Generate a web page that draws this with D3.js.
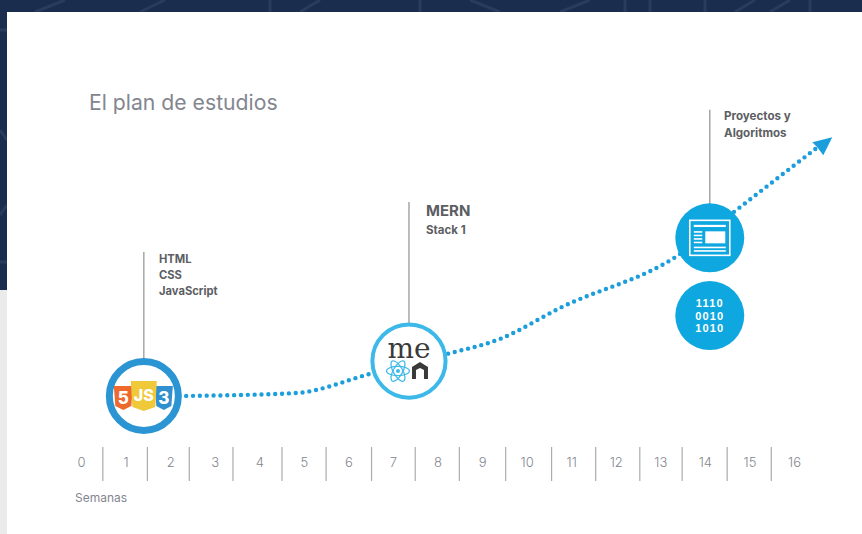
<!DOCTYPE html>
<html>
<head>
<meta charset="utf-8">
<script src="https://cdn.jsdelivr.net/npm/d3@7"></script>
<style>
  html, body { margin: 0; padding: 0; background: #fff; overflow: hidden; }
  text { font-family: Inter, Roboto, "Noto Sans", sans-serif; }
</style>
</head>
<body>
<div id="graph"></div>
<script>
/* chart values */
var weeks = [0, 1, 2, 3, 4, 5, 6, 7, 8, 9, 10, 11, 12, 13, 14, 15, 16];
var separators = [0.49, 1.49, 2.43, 3.41, 4.51, 5.5, 6.52, 7.5, 8.49, 9.53, 10.56, 11.55, 12.54, 13.49, 14.5, 15.49];
var curveWeeks = [2.36, 4.82, 6.49, 8.21, 9.4, 10.75, 13.44, 14.68, 16.5];
var curveLevels = [16.9, 17.8, 23.8, 30, 34.7, 44.4, 61.2, 74.7, 94.3];
var milestoneWeeks = [1.41, 7.36, 14.11, 14.11];
var milestoneLevels = [16.9, 27.8, 66.3, 42];
var leaderTops = [61.9, 77.5, 106.3];
var labelLines = [["HTML", "CSS", "JavaScript"], ["MERN", "Stack 1"], ["Proyectos y", "Algoritmos"]];
var binaryRows = ["1110", "0010", "1010"];

var WIDTH = 862, HEIGHT = 534;
var NAVY = "#1b2d4f", GREY = "#83868f", DARK = "#5c5e63";

var svg = d3.select("#graph").append("svg")
    .attr("width", WIDTH)
    .attr("height", HEIGHT)
    .style("display", "block");

/* week 0 sits at x=81, one week is about 44.56px */
var x = d3.scaleLinear().domain([0, 16]).range([81, 794]);
var y = d3.scaleLinear().domain([0, 100]).range([450, 130]);

function drawBackground() {
    /* dark page behind the white slide */
    svg.append("rect").attr("width", WIDTH).attr("height", HEIGHT).attr("fill", NAVY);
    var pattern = svg.append("path")
        .attr("fill", "none")
        .attr("stroke", "#2a3b5e")
        .attr("stroke-width", 3)
        .attr("d", "M35,12L65,0M140,12L165,0M270,0V12M300,12L320,0M420,0V12M470,0L500,12M560,12L590,0"
            + "M625,0V12M650,0V12M705,0V12M735,12L755,0M770,12L790,0M810,0V12M0,30H7M0,130L7,140M0,215L7,205M0,262H7");
    svg.append("rect").attr("x", 0).attr("y", 290).attr("width", 7).attr("height", HEIGHT - 290).attr("fill", "#ebebeb");
    svg.append("rect").attr("x", 7).attr("y", 12).attr("width", WIDTH - 7).attr("height", HEIGHT - 12).attr("fill", "#fff");
}

function drawAxis() {
    var axis = d3.axisBottom(x).tickValues(weeks).tickFormat(d3.format("d")).tickSize(0);
    var g = svg.append("g").attr("transform", "translate(0,455)").call(axis);
    g.select(".domain").remove();
    g.selectAll("text")
        .attr("fill", GREY)
        .style("font-size", "13px")
        .style("font-weight", 300)
        .style("font-family", "Inter, Roboto, sans-serif");

    svg.selectAll(".sep").data(separators).enter().append("line")
        .attr("class", "sep")
        .attr("x1", function (d) { return x(d); })
        .attr("x2", function (d) { return x(d); })
        .attr("y1", 447)
        .attr("y2", 481)
        .attr("stroke", "#a9abae")
        .attr("stroke-width", 1.2);

    svg.append("text").attr("x", 75).attr("y", 502)
        .attr("fill", GREY).style("font-size", "12px").text("Semanas");
}

function drawCurve() {
    var pts = d3.zip(curveWeeks, curveLevels);
    var line = d3.line()
        .x(function (d) { return x(d[0]); })
        .y(function (d) { return y(d[1]); })
        .curve(d3.curveMonotoneX);
    svg.append("path")
        .attr("d", line(pts))
        .attr("fill", "none")
        .attr("stroke", "#1b9edb")
        .attr("stroke-width", 4.4)
        .attr("stroke-linecap", "round")
        .attr("stroke-dasharray", "0 6.85");

    /* arrow head at the end of the curve */
    var n = pts.length - 1;
    svg.append("path")
        .attr("transform", "translate(" + x(curveWeeks[n]) + "," + y(curveLevels[n]) + ")")
        .attr("d", "M16,-11L-4,-6L1,-1L7,7Z")
        .attr("fill", "#1b9edb");
}

function drawLeaders() {
    leaderTops.forEach(function (top, i) {
        svg.append("line")
            .attr("x1", x(milestoneWeeks[i]))
            .attr("x2", x(milestoneWeeks[i]))
            .attr("y1", y(top))
            .attr("y2", y(milestoneLevels[i]))
            .attr("stroke", "#999")
            .attr("stroke-width", 1.3);
    });
}

function milestone(i) {
    return svg.append("g")
        .attr("transform", "translate(" + x(milestoneWeeks[i]) + "," + y(milestoneLevels[i]) + ")");
}

function shield(g, cx, top, w, h, fill, glyph, size) {
    var l = cx - w / 2, r = cx + w / 2;
    g.append("path")
        .attr("d", "M" + l + "," + top + "H" + r + "L" + (r - 1.5) + "," + (top + h - 4)
            + "L" + cx + "," + (top + h) + "L" + (l + 1.5) + "," + (top + h - 4) + "Z")
        .attr("fill", fill);
    g.append("text")
        .attr("x", cx)
        .attr("y", top + h / 2 + size * 0.34)
        .attr("text-anchor", "middle")
        .attr("fill", "#fff")
        .style("font-size", size + "px")
        .style("font-weight", 800)
        .text(glyph);
}

function drawWebStack() {
    var g = milestone(0);
    g.append("circle").attr("r", 34.5).attr("fill", "#fff")
        .attr("stroke", "#2b95d3").attr("stroke-width", 7);
    shield(g, -20.5, -10, 19, 24, "#ee6a2c", "5", 17);
    shield(g, 20, -10, 18, 24, "#2f8fd0", "3", 17);
    shield(g, 0, -15, 26, 30, "#f0c93a", "JS", 16);
}

function drawMern() {
    var g = milestone(1);
    g.append("circle").attr("r", 36.6).attr("fill", "#fff")
        .attr("stroke", "#3cb9e8").attr("stroke-width", 4);
    g.append("text")
        .attr("y", -3)
        .attr("text-anchor", "middle")
        .attr("fill", "#3a3a3a")
        .style("font-family", "'DejaVu Serif', serif")
        .style("font-size", "28px")
        .text("me");
    [0, 60, 120].forEach(function (a) {
        g.append("ellipse")
            .attr("cx", -11).attr("cy", 10)
            .attr("rx", 11.5).attr("ry", 4.6)
            .attr("transform", "rotate(" + a + " -11 10)")
            .attr("fill", "none")
            .attr("stroke", "#3cb9e8")
            .attr("stroke-width", 1.2);
    });
    g.append("circle").attr("cx", -11).attr("cy", 10).attr("r", 2).attr("fill", "#3cb9e8");
    g.append("path")
        .attr("d", "M3,6L11,1L19,6V18H15V9L11,7L7,9V18H3Z")
        .attr("fill", "#3a3a3a");
}

function drawProjects() {
    var g = milestone(2);
    g.append("circle").attr("r", 34.5).attr("fill", "#0ea7df");
    g.append("rect").attr("x", -20).attr("y", -17.5).attr("width", 40).attr("height", 35)
        .attr("fill", "none").attr("stroke", "#fff").attr("stroke-width", 1.6);
    g.append("rect").attr("x", -16).attr("y", -13).attr("width", 32).attr("height", 2.2).attr("fill", "#fff");
    g.append("rect").attr("x", -4.5).attr("y", -6.5).attr("width", 20).attr("height", 12).attr("fill", "#fff");
    [-6, -2.5, 1, 4.5].forEach(function (d) {
        g.append("rect").attr("x", -16).attr("y", d - 0.7).attr("width", 8.5).attr("height", 1.6).attr("fill", "#fff");
    });
    [9.5, 13].forEach(function (d) {
        g.append("rect").attr("x", -16).attr("y", d - 0.7).attr("width", 32).attr("height", 1.6).attr("fill", "#fff");
    });

    var b = milestone(3);
    b.append("circle").attr("r", 34.5).attr("fill", "#0ea7df");
    b.selectAll("text").data(binaryRows).enter().append("text")
        .attr("y", function (d, i) { return -8.6 + i * 12.7; })
        .attr("text-anchor", "middle")
        .attr("fill", "#fff")
        .style("font-family", "'Liberation Sans', sans-serif")
        .style("font-size", "11px")
        .style("font-weight", 700)
        .style("letter-spacing", "1.2px")
        .text(function (d) { return d; });
}

function drawLabels() {
    svg.append("text").attr("x", 89).attr("y", 110)
        .attr("fill", GREY).style("font-size", "21.2px").text("El plan de estudios");

    function block(lines, left, baselines, sizes) {
        lines.forEach(function (t, i) {
            svg.append("text").attr("x", left).attr("y", baselines[i])
                .attr("fill", DARK)
                .style("font-size", sizes[i] + "px")
                .style("font-weight", 700)
                .text(t);
        });
    }
    block(labelLines[0], 159, [263, 279, 295], [11.2, 11.2, 11.2]);
    block(labelLines[1], 426, [216, 234], [15, 11.5]);
    block(labelLines[2], 724, [120, 137], [11.6, 11.6]);
}

drawBackground();
drawAxis();
drawCurve();
drawLeaders();
drawWebStack();
drawMern();
drawProjects();
drawLabels();
</script>
</body>
</html>
